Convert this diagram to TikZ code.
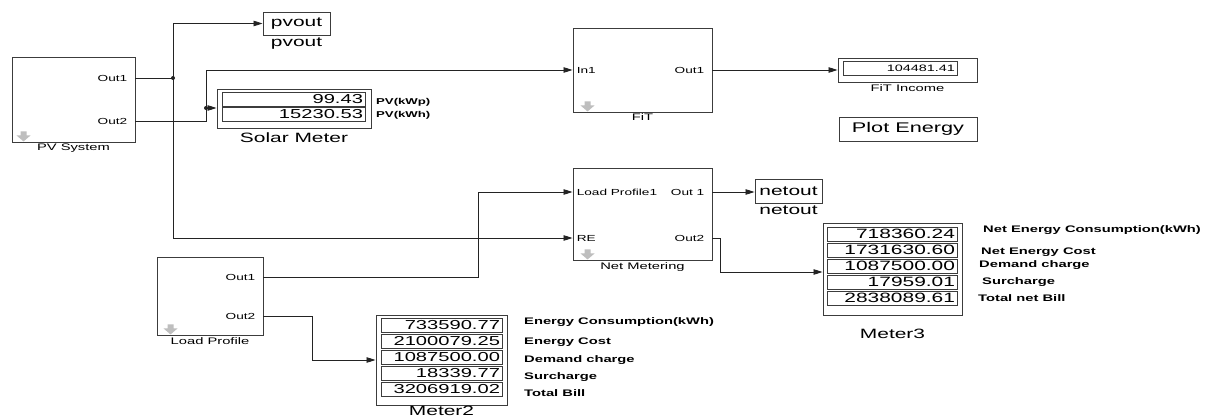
\documentclass[tikz,border=0pt]{standalone}
\usepackage{fontspec}
\setmainfont{Liberation Sans}[FakeStretch=1.55]
\usetikzlibrary{positioning,arrows.meta,shadows}
\definecolor{slEdge}{RGB}{60,60,60}
\definecolor{slWire}{RGB}{35,35,35}
\definecolor{slMask}{RGB}{190,190,190}
\newcommand{\slsize}[1]{\fontsize{#1}{#1}\selectfont}
\tikzset{
  sl/block/.style={draw=slEdge, line width=0.9pt, fill=white, inner sep=1pt,
                   drop shadow={shadow xshift=1.3pt, shadow yshift=-1.3pt,
                                fill=black!55, opacity=0.8}},
  sl/cell/.style={draw=slEdge, line width=0.9pt, fill=white, inner xsep=2pt,
                  inner ysep=0pt, align=right, minimum height=14pt},
  sl/in/.style={font=\slsize{8.8}, inner sep=1pt, anchor=west, xshift=3pt},
  sl/out/.style={font=\slsize{8.8}, inner sep=1pt, anchor=east, xshift=-7pt},
  sl/name/.style={font=\slsize{9.5}, inner sep=1pt},
  sl/big/.style={font=\slsize{13.5}, inner sep=1pt},
  sl/tag/.style={font=\slsize{9.5}\bfseries, inner sep=1pt, anchor=west},
  sl/wire/.style={draw=slWire, line width=0.8pt},
  sl/arrow/.style={sl/wire, -{Triangle[length=9pt, width=5.5pt]}},
  sl/dot/.style={circle, fill=slWire, inner sep=0pt, minimum size=4pt},
  pics/sl mask/.style={code={
    \fill[slMask] (-3,0) -- (3,0) -- (3,4) -- (7,4) -- (0,10) -- (-7,4)
      -- (-3,4) -- cycle;}},
}

\begin{document}
\begin{tikzpicture}[x=1pt, y=-1pt]
  \useasboundingbox (0,0) rectangle (1212,417);

  % ---------------- PV side ----------------
  \node[sl/block, minimum width=123pt, minimum height=85pt] (pv) at (73.5,99.5) {};
  \node[sl/out] (pvOut1) at (pv.east |- 0,78) {Out1};
  \node[sl/out] (pvOut2) at (pv.east |- 0,121) {Out2};
  \pic at ([shift={(12pt,11pt)}]pv.south west) {sl mask};
  \node[sl/name, below=0pt of pv] (pvName) {PV System};

  \node[sl/block, sl/big, minimum width=67pt, minimum height=23pt]
    (pvoutBox) at (296.5,23.5) {pvout};
  \node[sl/big, below=1pt of pvoutBox] (pvoutName) {pvout};

  \node[sl/block, minimum width=154pt, minimum height=39pt] (solar) at (294,108.5) {};
  \node[sl/cell, text width=139pt, font=\slsize{13}] (solarV1) at (293.5,99) {99.43};
  \node[sl/cell, text width=139pt, font=\slsize{13}] (solarV2) at (293.5,114.5) {15230.53};
  \node[sl/tag, font=\slsize{8.5}\bfseries] (solarT1) at (375,102) {PV(kWp)};
  \node[sl/tag, font=\slsize{8.5}\bfseries] (solarT2) at (375,115) {PV(kWh)};
  \node[sl/big, below=3pt of solar] (solarName) {Solar Meter};

  % ---------------- FiT ----------------
  \node[sl/block, minimum width=139pt, minimum height=84pt] (fit) at (642.5,70) {};
  \node[sl/in] (fitIn1) at (fit.west) {In1};
  \node[sl/out] (fitOut1) at (fit.east) {Out1};
  \pic at ([shift={(15pt,11pt)}]fit.south west) {sl mask};
  \node[sl/name, below=0pt of fit] (fitName) {FiT};

  \node[sl/block, minimum width=139pt, minimum height=24pt] (income) at (907.5,70) {};
  \node[sl/cell, text width=110pt, font=\slsize{9.3}] (incomeV) at (900,68) {104481.41};
  \node[sl/name, below=1pt of income] (incomeName) {FiT Income};

  \node[sl/block, font=\slsize{14}, minimum width=138pt, minimum height=24pt]
    (plot) at (908,129) {Plot Energy};

  % ---------------- net metering ----------------
  \node[sl/block, minimum width=139pt, minimum height=92pt] (nm) at (642.5,214) {};
  \node[sl/in] (nmIn1) at (nm.west |- 0,192) {Load Profile1};
  \node[sl/in] (nmIn2) at (nm.west |- 0,238) {RE};
  \node[sl/out] (nmOut1) at (nm.east |- 0,192) {Out 1};
  \node[sl/out] (nmOut2) at (nm.east |- 0,238) {Out2};
  \pic at ([shift={(15pt,11pt)}]nm.south west) {sl mask};
  \node[sl/name, below=1pt of nm] (nmName) {Net Metering};

  \node[sl/block, sl/big, minimum width=67pt, minimum height=24pt]
    (netoutBox) at (788.5,191) {netout};
  \node[sl/big, below=1pt of netoutBox] (netoutName) {netout};

  \node[sl/block, minimum width=139pt, minimum height=92pt] (meter3) at (892.5,269) {};
  \node[sl/cell, text width=126pt, font=\slsize{13.5}] (m3v1) at (892,234) {718360.24};
  \node[sl/cell, text width=126pt, font=\slsize{13.5}] (m3v2) at (892,250) {1731630.60};
  \node[sl/cell, text width=126pt, font=\slsize{13.5}] (m3v3) at (892,266) {1087500.00};
  \node[sl/cell, text width=126pt, font=\slsize{13.5}] (m3v4) at (892,282) {17959.01};
  \node[sl/cell, text width=126pt, font=\slsize{13.5}] (m3v5) at (892,298) {2838089.61};
  \node[sl/tag] (m3t1) at (982,230) {Net Energy Consumption(kWh)};
  \node[sl/tag] (m3t2) at (980,252) {Net Energy Cost};
  \node[sl/tag] (m3t3) at (978,265) {Demand charge};
  \node[sl/tag] (m3t4) at (981,282) {Surcharge};
  \node[sl/tag] (m3t5) at (977,298) {Total net Bill};
  \node[sl/big, below=12pt of meter3] (meter3Name) {Meter3};

  % ---------------- load side ----------------
  \node[sl/block, minimum width=106pt, minimum height=78pt] (load) at (210,296) {};
  \node[sl/out] (loadOut1) at (load.east |- 0,277) {Out1};
  \node[sl/out] (loadOut2) at (load.east |- 0,316) {Out2};
  \pic at ([shift={(14pt,11pt)}]load.south west) {sl mask};
  \node[sl/name, below=1pt of load] (loadName) {Load Profile};

  \node[sl/block, minimum width=131pt, minimum height=90pt] (meter2) at (441.5,360) {};
  \node[sl/cell, text width=117pt, font=\slsize{13}] (m2v1) at (441.5,325) {733590.77};
  \node[sl/cell, text width=117pt, font=\slsize{13}] (m2v2) at (441.5,341) {2100079.25};
  \node[sl/cell, text width=117pt, font=\slsize{13}] (m2v3) at (441.5,357) {1087500.00};
  \node[sl/cell, text width=117pt, font=\slsize{13}] (m2v4) at (441.5,373) {18339.77};
  \node[sl/cell, text width=117pt, font=\slsize{13}] (m2v5) at (441.5,389) {3206919.02};
  \node[sl/tag] (m2t1) at (523,322) {Energy Consumption(kWh)};
  \node[sl/tag] (m2t2) at (523,342) {Energy Cost};
  \node[sl/tag] (m2t3) at (523,360) {Demand charge};
  \node[sl/tag] (m2t4) at (523,377) {Surcharge};
  \node[sl/tag] (m2t5) at (523,393) {Total Bill};
  \node[sl/big, inner sep=0pt, below=0.5pt of meter2] (meter2Name) {Meter2};

  % ---------------- signal lines ----------------
  \coordinate (pvSplit)    at (173,78);
  \coordinate (solarSplit) at (206,108);
  \coordinate (loadBend)   at (478,277);
  \coordinate (m2Bend)     at (312,316);
  \coordinate (m3Bend)     at (720,238);

  \draw[sl/wire]  (pv.east |- pvOut1) -- (pvSplit);
  \draw[sl/arrow] (pvSplit) |- (pvoutBox.west);
  \draw[sl/arrow] (pvSplit) |- (nm.west |- nmIn2);

  \draw[sl/wire]  (pv.east |- pvOut2) -| (solarSplit);
  \draw[sl/arrow] (solarSplit) -- (solar.west |- solarSplit);
  \draw[sl/arrow] (solarSplit) |- (fit.west |- fitIn1);
  \draw[sl/arrow] (fit.east |- fitOut1) -- (income.west |- fitOut1);

  \draw[sl/arrow] (load.east |- loadOut1) -- (loadBend) |- (nm.west |- nmIn1);
  \draw[sl/arrow] (load.east |- loadOut2) -- (m2Bend) |- (meter2.west);

  \draw[sl/arrow] (nm.east |- nmOut1) -- (netoutBox.west |- nmOut1);
  \draw[sl/arrow] (nm.east |- nmOut2) -- (m3Bend) |- ([yshift=-3pt]meter3.west);

  \node[sl/dot] (pvDot) at (pvSplit) {};
  \node[sl/dot] (solarDot) at (solarSplit) {};

\end{tikzpicture}
\end{document}
